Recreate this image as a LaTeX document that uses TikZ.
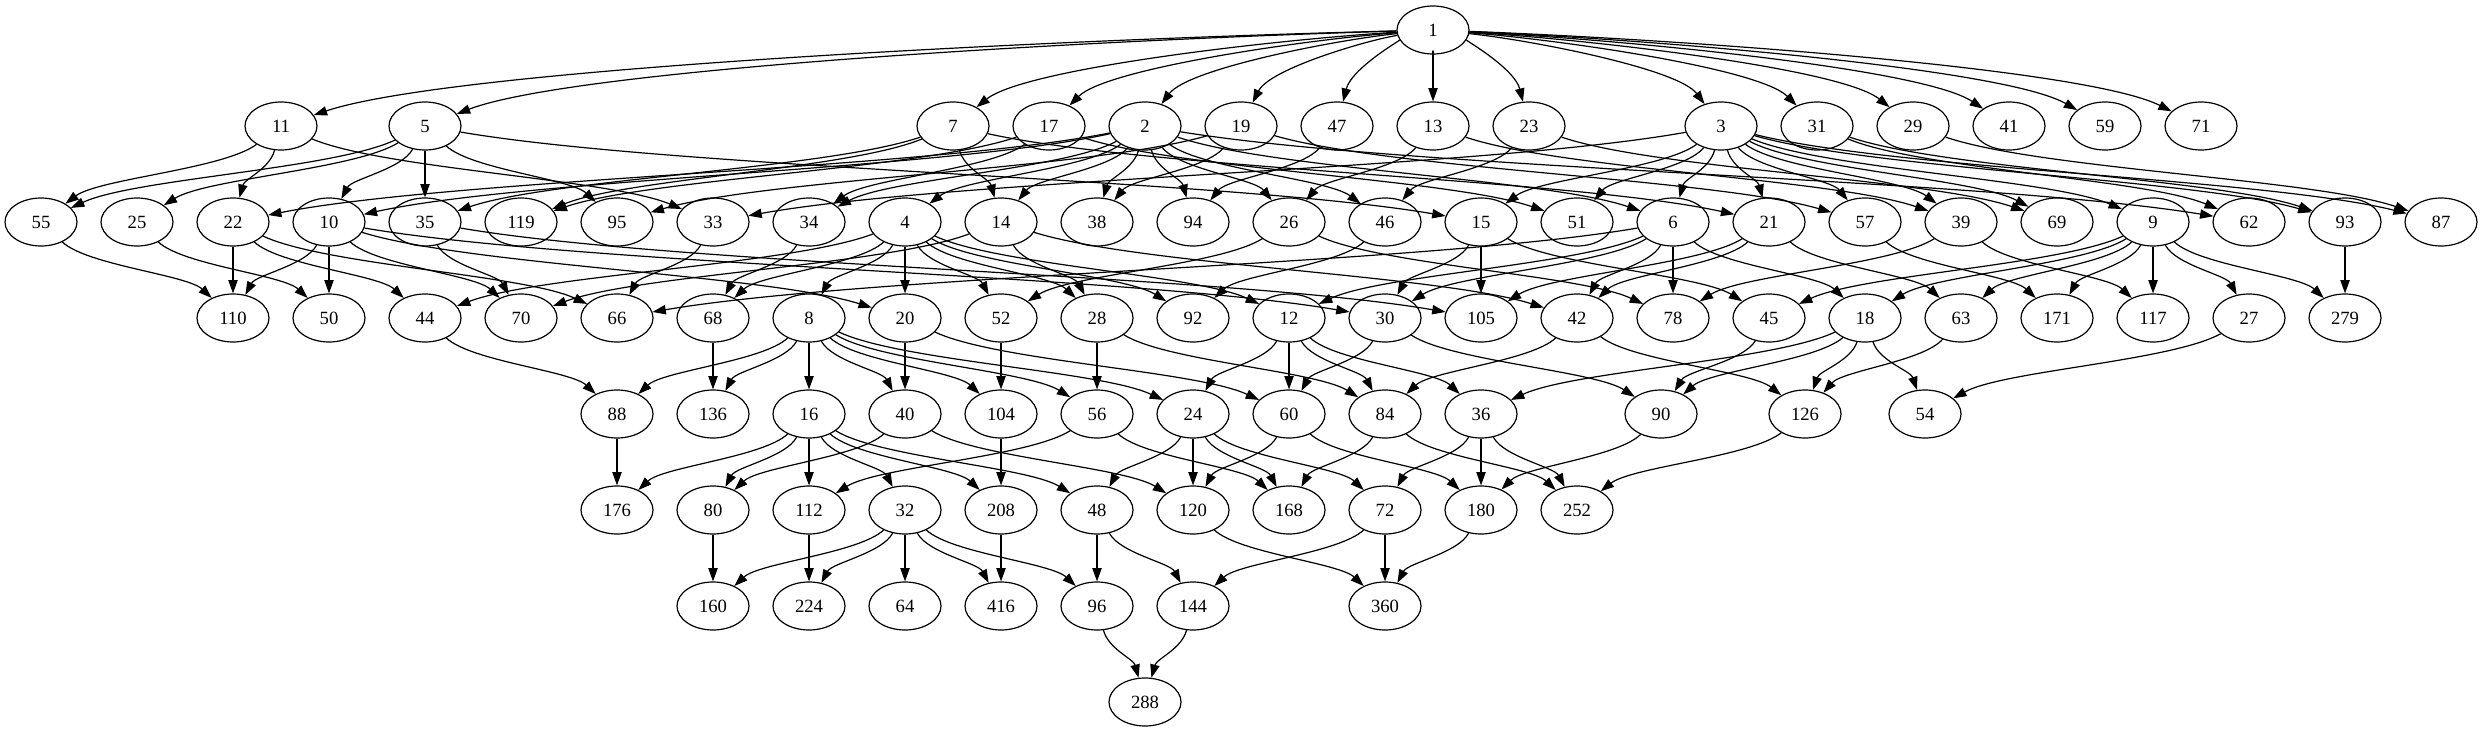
\documentclass[tikz,border=0pt]{standalone}
\usepackage{fontspec}
\setmainfont{Liberation Serif}
\usetikzlibrary{arrows.meta,shapes.geometric,calc}
\begin{document}
\begin{tikzpicture}[x=0.75pt,y=0.75pt,
  nd/.style={draw,ellipse,minimum width=54pt,minimum height=36pt,inner sep=0pt,line width=0.9pt,font=\fontsize{14}{16}\selectfont},
  ed/.style={-{Triangle[length=10pt,width=7pt]},line width=0.9pt}]
\useasboundingbox (0,0) rectangle (2483,-731);
\newcommand\GN[3]{\node[nd] (n#1) at ({41+96*(#2)},{-30-96*(#3)}) {#1};}
% row 0
\GN{1}{14.5}{0}
% row 1
\GN{11}{2.5}{1} \GN{5}{4}{1} \GN{7}{9.5}{1} \GN{17}{10.5}{1} \GN{2}{11.5}{1}
\GN{19}{12.5}{1} \GN{47}{13.5}{1} \GN{13}{14.5}{1} \GN{23}{15.5}{1} \GN{3}{17.5}{1}
\GN{31}{18.5}{1} \GN{29}{19.5}{1} \GN{41}{20.5}{1} \GN{59}{21.5}{1} \GN{71}{22.5}{1}
% row 2
\GN{55}{0}{2} \GN{25}{1}{2} \GN{22}{2}{2} \GN{10}{3}{2} \GN{35}{4}{2} \GN{119}{5}{2}
\GN{95}{6}{2} \GN{33}{7}{2} \GN{34}{8}{2} \GN{4}{9}{2} \GN{14}{10}{2} \GN{38}{11}{2}
\GN{94}{12}{2} \GN{26}{13}{2} \GN{46}{14}{2} \GN{15}{15}{2} \GN{51}{16}{2} \GN{6}{17}{2}
\GN{21}{18}{2} \GN{57}{19}{2} \GN{39}{20}{2} \GN{69}{21}{2} \GN{9}{22}{2} \GN{62}{23}{2}
\GN{93}{24}{2} \GN{87}{25}{2}
% row 3
\GN{110}{2}{3} \GN{50}{3}{3} \GN{44}{4}{3} \GN{70}{5}{3} \GN{66}{6}{3} \GN{68}{7}{3}
\GN{8}{8}{3} \GN{20}{9}{3} \GN{52}{10}{3} \GN{28}{11}{3} \GN{92}{12}{3} \GN{12}{13}{3}
\GN{30}{14}{3} \GN{105}{15}{3} \GN{42}{16}{3} \GN{78}{17}{3} \GN{45}{18}{3} \GN{18}{19}{3}
\GN{63}{20}{3} \GN{171}{21}{3} \GN{117}{22}{3} \GN{27}{23}{3} \GN{279}{24}{3}
% row 4
\GN{88}{6}{4} \GN{136}{7}{4} \GN{16}{8}{4} \GN{40}{9}{4} \GN{104}{10}{4} \GN{56}{11}{4}
\GN{24}{12}{4} \GN{60}{13}{4} \GN{84}{14}{4} \GN{36}{15}{4} \GN{90}{16.875}{4}
\GN{126}{18.375}{4} \GN{54}{19.625}{4}
% row 5
\GN{176}{6}{5} \GN{80}{7}{5} \GN{112}{8}{5} \GN{32}{9}{5} \GN{208}{10}{5} \GN{48}{11}{5}
\GN{120}{12}{5} \GN{168}{13}{5} \GN{72}{14}{5} \GN{180}{15}{5} \GN{252}{16}{5}
% row 6
\GN{160}{7}{6} \GN{224}{8}{6} \GN{64}{9}{6} \GN{416}{10}{6} \GN{96}{11}{6} \GN{144}{12}{6}
\GN{360}{14}{6}
% row 7
\GN{288}{11.5}{7}
% edges from the root
\foreach \b in {2,3,5,7,11,13,17,19,23,29,31,41,47,59,71}
  \draw[ed] let \p1=(n1.center), \p2=(n\b.center) in
    (n1) .. controls ({\x1+0.33*(\x2-\x1)},{\y1+0.1*(\y2-\y1)})
          and ({\x2-0.15*(\x2-\x1)},{\y2-0.6*(\y2-\y1)}) .. (n\b);
% other edges
\foreach \a/\b in {
2/4,2/6,2/10,2/14,2/22,2/26,2/34,2/38,2/46,2/62,2/94,
3/6,3/9,3/15,3/21,3/33,3/39,3/51,3/57,3/69,3/87,3/93,
5/10,5/15,5/25,5/35,5/55,5/95,
7/14,7/21,7/35,7/119,
11/22,11/33,11/55,
13/26,13/39,
17/34,17/51,17/119,
19/38,19/57,19/95,
23/46,23/69,
29/87,
31/62,31/93,
47/94,
55/110,25/50,
22/44,22/66,22/110,
10/20,10/30,10/50,10/70,10/110,
35/70,35/105,
33/66,34/68,
4/8,4/12,4/20,4/28,4/44,4/52,4/68,4/92,
14/28,14/42,14/70,
26/52,26/78,46/92,
15/30,15/45,15/105,
6/12,6/18,6/30,6/42,6/66,6/78,
21/42,21/63,21/105,
57/171,39/78,39/117,
9/18,9/27,9/45,9/63,9/117,9/171,9/279,
93/279,
44/88,68/136,
8/16,8/24,8/40,8/56,8/88,8/104,8/136,
20/40,20/60,52/104,28/56,28/84,
12/24,12/36,12/60,12/84,
30/60,30/90,42/84,42/126,45/90,
18/36,18/54,18/90,18/126,63/126,27/54,
88/176,
16/32,16/48,16/80,16/112,16/176,16/208,
40/80,40/120,104/208,56/112,56/168,
24/48,24/72,24/120,24/168,
60/120,60/180,84/168,84/252,
36/72,36/180,36/252,90/180,126/252,
80/160,112/224,
32/64,32/96,32/160,32/224,32/416,
208/416,48/96,48/144,120/360,72/144,72/360,180/360,
96/288,144/288}
  \draw[ed] let \p1=(n\a.center), \p2=(n\b.center) in
    (n\a) .. controls ({\x1+0.24*(\x2-\x1)},{\y1+0.45*(\y2-\y1)})
          and ({\x2-0.24*(\x2-\x1)},{\y2-0.45*(\y2-\y1)}) .. (n\b);
\end{tikzpicture}
\end{document}
